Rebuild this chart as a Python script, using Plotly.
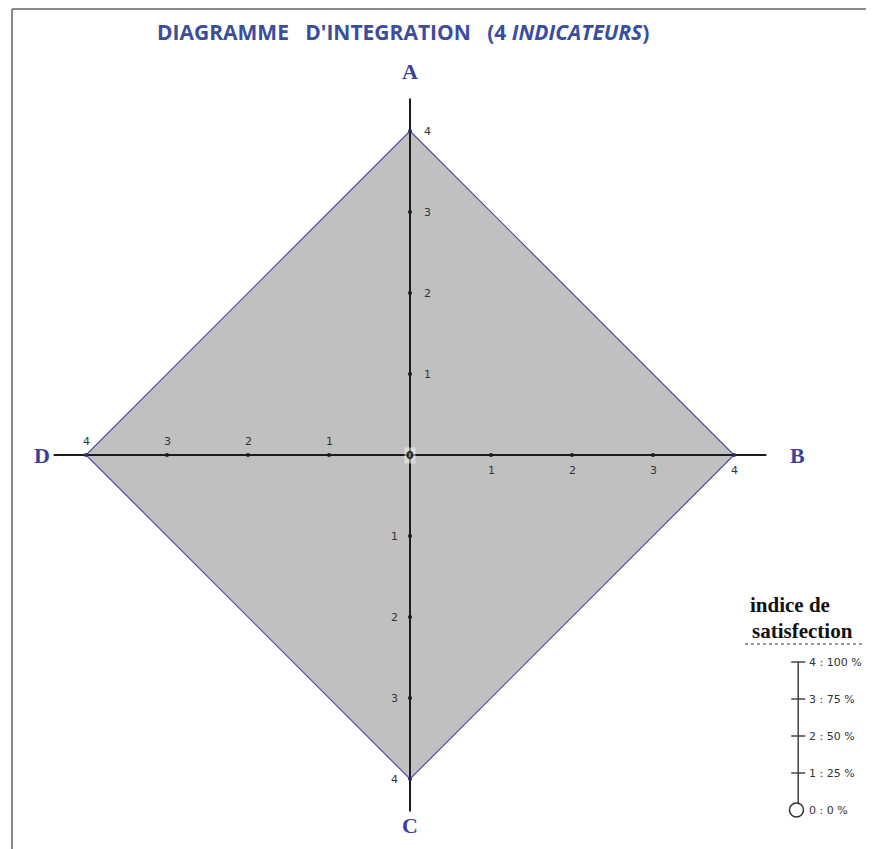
import plotly.graph_objects as go

# ---------------- data ----------------
axis_names = ["A", "B", "C", "D"]
axis_dirs = [(0, 1), (1, 0), (0, -1), (-1, 0)]   # direction of each indicator axis
scores = [4, 4, 4, 4]                               # satisfaction index per indicator
tick_values = [1, 2, 3, 4]
tick_labels = ["1", "2", "3", "4"]
axis_length = 4.4
name_dist = [4.73, 4.79, 4.58, 4.54]

legend_levels = [0, 1, 2, 3, 4]
legend_labels = ["0 : 0 %", "1 : 25 %", "2 : 50 %", "3 : 75 %", "4 : 100 %"]

SP = "\u00a0" * 3
title_text = "DIAGRAMME" + SP + "D'INTEGRATION" + SP + "(4 <i>INDICATEURS</i>)"

# ---------------- figure ----------------
OFF = 8                 # page body margin
W, H = 874 - OFF, 849 - OFF


def pxx(x):             # reference pixel -> paper x
    return (x - OFF) / W


def pxy(y):             # reference pixel -> paper y
    return 1 - (y - OFF) / H


fig = go.Figure()

# diamond (score polygon)
px = [d[0] * s for d, s in zip(axis_dirs, scores)]
py = [d[1] * s for d, s in zip(axis_dirs, scores)]
fig.add_trace(go.Scatter(
    x=px + [px[0]], y=py + [py[0]], mode="lines", fill="toself",
    fillcolor="#c0c0c0", line=dict(color="#4b4bab", width=1.2),
    hoverinfo="skip"))

# axes lines
lx, ly = [], []
for d in axis_dirs:
    lx += [0, d[0] * axis_length, None]
    ly += [0, d[1] * axis_length, None]
fig.add_trace(go.Scatter(x=lx, y=ly, mode="lines",
                         line=dict(color="#1c1c1c", width=2), hoverinfo="skip"))

# tick dots
tx, ty, tc = [], [], []
for d in axis_dirs:
    for v in tick_values:
        tx.append(d[0] * v)
        ty.append(d[1] * v)
        tc.append("#1a1a1a" if v < 4 else "#2a2a70")
fig.add_trace(go.Scatter(x=tx, y=ty, mode="markers",
                         marker=dict(color=tc, size=4), hoverinfo="skip"))

annotations = []
# tick labels
offsets = {"A": (17, 0), "B": (0, -15), "C": (-16, 0), "D": (0, 14)}
for name, d in zip(axis_names, axis_dirs):
    ox, oy = offsets[name]
    for v, t in zip(tick_values, tick_labels):
        annotations.append(dict(
            x=d[0] * v, y=d[1] * v, text=t, showarrow=False,
            xshift=ox, yshift=oy,
            font=dict(family="DejaVu Sans", size=11, color="#333333")))
# origin label
annotations.append(dict(x=0, y=0, text="<b>0</b>", showarrow=False,
                        bgcolor="rgba(255,255,255,0.45)", borderpad=1,
                        font=dict(family="DejaVu Sans", size=11, color="#222222")))

# axis names
for name, d, r in zip(axis_names, axis_dirs, name_dist):
    annotations.append(dict(
        x=d[0] * r, y=d[1] * r, text="<b>%s</b>" % name, showarrow=False,
        font=dict(family="Liberation Serif", size=22, color="#3d3d9d")))

# title
annotations.append(dict(
    xref="paper", yref="paper", x=pxx(403), y=pxy(32), xanchor="center",
    yanchor="middle", text="<b>%s</b>" % title_text, showarrow=False,
    font=dict(family="Open Sans", size=21, color="#3a4d9e")))

# legend scale (overlay axes x2/y2)
fig.add_trace(go.Scatter(
    x=[0] * len(legend_levels), y=legend_levels, mode="lines",
    line=dict(color="#444444", width=1.5), xaxis="x2", yaxis="y2",
    hoverinfo="skip", cliponaxis=False))
fig.add_trace(go.Scatter(
    x=[0] * (len(legend_levels) - 1), y=legend_levels[1:], mode="markers",
    marker=dict(symbol="line-ew", size=10, line=dict(color="#444444", width=1.5)),
    xaxis="x2", yaxis="y2", hoverinfo="skip", cliponaxis=False))
fig.add_trace(go.Scatter(
    x=[-0.04], y=[legend_levels[0]], mode="markers",
    marker=dict(symbol="circle", size=14, color="white",
                line=dict(color="#333333", width=1.5)),
    xaxis="x2", yaxis="y2", hoverinfo="skip", cliponaxis=False))
for v, t in zip(legend_levels, legend_labels):
    annotations.append(dict(
        x=0, y=v, xref="x2", yref="y2", text=t, showarrow=False,
        xanchor="left", xshift=9,
        font=dict(family="DejaVu Sans", size=11, color="#333333")))

annotations.append(dict(
    xref="paper", yref="paper", x=pxx(790), y=pxy(605), xanchor="center",
    yanchor="middle", text="<b>indice de</b>",
    showarrow=False, font=dict(family="Liberation Serif", size=21, color="#111111")))
annotations.append(dict(
    xref="paper", yref="paper", x=pxx(802), y=pxy(631), xanchor="center",
    yanchor="middle", text="<b>satisfection</b>",
    showarrow=False, font=dict(family="Liberation Serif", size=21, color="#111111")))

shapes = [
    # underline of legend title
    dict(type="line", xref="paper", yref="paper", x0=pxx(745), x1=pxx(865),
         y0=pxy(644), y1=pxy(644), line=dict(color="#999999", width=2, dash="dot")),
    # frame
    dict(type="line", xref="paper", yref="paper", x0=pxx(12), x1=pxx(872),
         y0=pxy(9), y1=pxy(9), line=dict(color="#8a8a8a", width=2)),
    dict(type="line", xref="paper", yref="paper", x0=pxx(12), x1=pxx(12),
         y0=pxy(9), y1=0, line=dict(color="#8a8a8a", width=2)),
    dict(type="line", xref="paper", yref="paper", x0=pxx(872), x1=pxx(872),
         y0=pxy(9), y1=0, line=dict(color="#e6e6ee", width=1)),
]

cx, cy, scale = 410 - OFF, 455 - OFF, 81.0
fig.update_layout(
    width=W, height=H, margin=dict(l=0, r=0, t=0, b=0),
    paper_bgcolor="white", plot_bgcolor="white", showlegend=False,
    xaxis=dict(range=[-cx / scale, (W - cx) / scale], visible=False, fixedrange=True),
    yaxis=dict(range=[(cy - H) / scale, cy / scale], visible=False, fixedrange=True),
    xaxis2=dict(domain=[0.9, 1.0], range=[-0.25, 1.75], visible=False,
                anchor="y2", fixedrange=True),
    yaxis2=dict(domain=[pxy(810), pxy(662)], range=[0, 4], visible=False,
                anchor="x2", fixedrange=True),
    annotations=annotations, shapes=shapes,
)

fig.write_html("out.html")
